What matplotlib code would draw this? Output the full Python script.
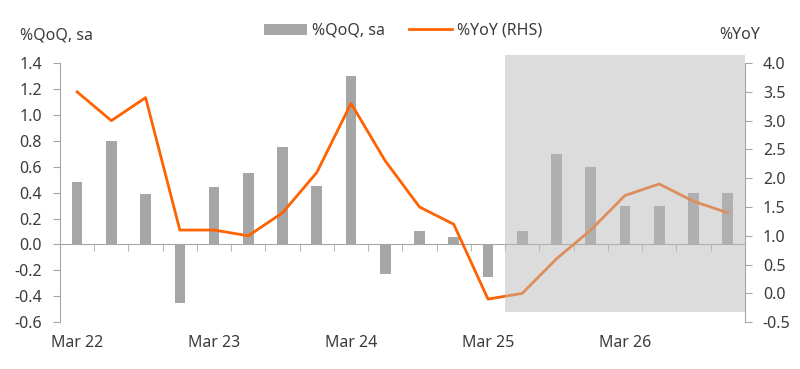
import matplotlib
matplotlib.use("Agg")
import matplotlib.pyplot as plt
import numpy as np

plt.rcParams['font.family'] = ['Noto Sans', 'DejaVu Sans']

# quarterly data, Mar 22 .. Dec 26
quarters = ["Mar 22", "Jun 22", "Sep 22", "Dec 22",
            "Mar 23", "Jun 23", "Sep 23", "Dec 23",
            "Mar 24", "Jun 24", "Sep 24", "Dec 24",
            "Mar 25", "Jun 25", "Sep 25", "Dec 25",
            "Mar 26", "Jun 26", "Sep 26", "Dec 26"]
qoq = [0.48, 0.80, 0.39, -0.45,
       0.44, 0.55, 0.75, 0.45,
       1.30, -0.23, 0.10, 0.06,
       -0.25, 0.10, 0.70, 0.60,
       0.30, 0.30, 0.40, 0.40]
yoy = [3.5, 3.0, 3.4, 1.1,
       1.1, 1.0, 1.4, 2.1,
       3.3, 2.3, 1.5, 1.2,
       -0.1, 0.0, 0.6, 1.1,
       1.7, 1.9, 1.6, 1.4]
forecast_start = "Jun 25"

text_col = "#3c3c3c"
axis_col = "#a6a6a6"
bar_col = "#a6a6a6"
line_col = "#ff6200"
fsize = 11.5

x = np.arange(len(quarters))

fig = plt.figure(figsize=(8, 3.69), dpi=100)
ax = fig.add_axes([0.075, 0.127, 0.856, 0.702])
ax2 = ax.twinx()

bars = ax.bar(x, qoq, width=0.31, color=bar_col, zorder=2, label="%QoQ, sa")
line, = ax2.plot(x, yoy, color=line_col, lw=2, zorder=3, label="%YoY (RHS)")

ax.set_xlim(-0.5, len(quarters) - 0.5)
ax.set_ylim(-0.6, 1.4)
ax.set_yticks(np.arange(-0.6, 1.41, 0.2))
ax.set_yticklabels([f"{v:.1f}" for v in np.arange(-0.6, 1.41, 0.2)])
ax2.set_ylim(-0.5, 4.0)
ax2.set_yticks(np.arange(-0.5, 4.01, 0.5))
ax2.set_yticklabels([f"{v:.1f}" for v in np.arange(-0.5, 4.01, 0.5)])

for a in (ax, ax2):
    a.spines['top'].set_visible(False)
    for s in ('left', 'right', 'bottom'):
        a.spines[s].set_color(axis_col)
ax2.spines['bottom'].set_visible(False)
ax2.spines['left'].set_visible(False)
ax.spines['right'].set_visible(False)

# zero line with tick marks between quarters, labels at the bottom
ax.spines['bottom'].set_position(('data', 0))
ax.set_xticks(x[::4])
ax.set_xticklabels(quarters[::4])
ax.set_xticks(x[:-1] + 0.5, minor=True)
ax.tick_params(axis='x', which='major', length=0, pad=65, labelsize=fsize, labelcolor=text_col)
ax.tick_params(axis='x', which='minor', length=5, color=axis_col, direction='out')
ax.tick_params(axis='y', length=5, color=axis_col, pad=8, labelsize=fsize, labelcolor=text_col)
ax2.tick_params(axis='y', length=5, color=axis_col, pad=8, labelsize=fsize, labelcolor=text_col)

# forecast shading on top
fs = quarters.index(forecast_start) - 0.5
ax2.axvspan(fs, len(quarters) - 0.5, ymin=0.039, ymax=1.031, color="#bababa",
            alpha=0.5, lw=0, zorder=10, clip_on=False)

fig.text(0.025, 0.905, "%QoQ, sa", fontsize=fsize, color=text_col, va='center')
fig.text(0.925, 0.905, "%YoY", fontsize=fsize, color=text_col, va='center', ha='center')

fig.legend(handles=[bars, line], loc='center', bbox_to_anchor=(0.504, 0.916), ncol=2,
           frameon=False, fontsize=fsize, handlelength=2.7, handletextpad=0.3,
           columnspacing=1.5, labelcolor=text_col)

fig.savefig("out.png", dpi=100)
